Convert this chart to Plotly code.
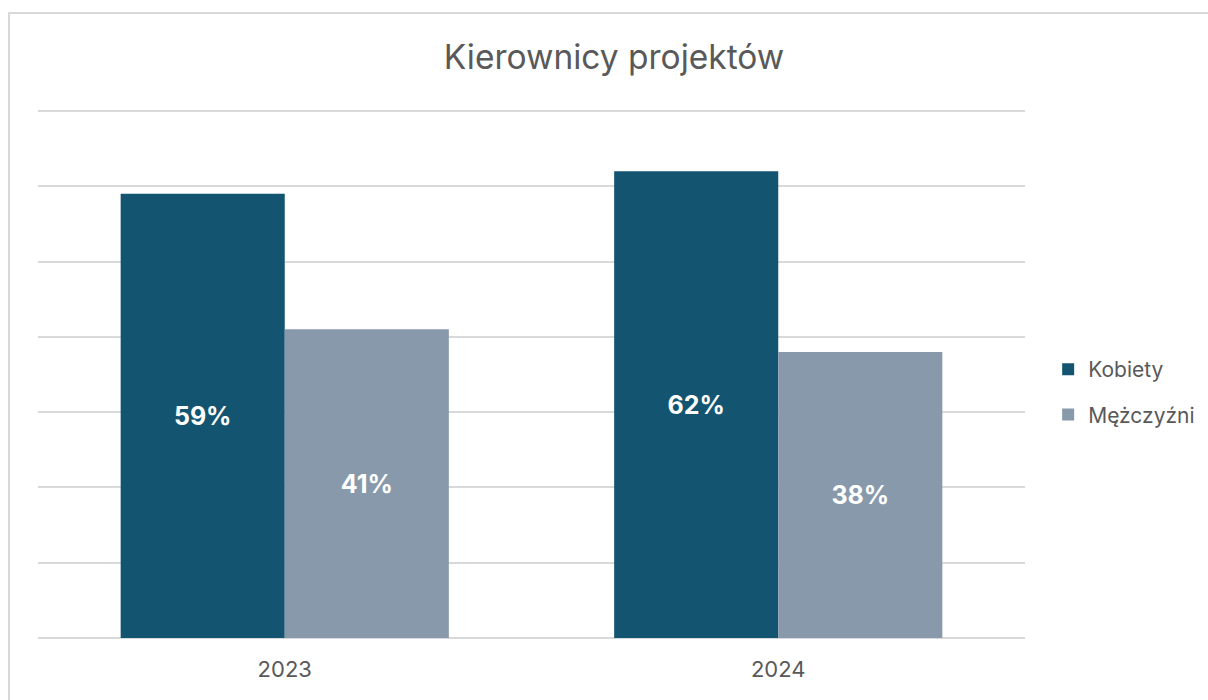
import plotly.graph_objects as go

categories = ["2023", "2024"]
kobiety = [59, 62]
mezczyzni = [41, 38]
series_names = ["Kobiety", "Mężczyźni"]
colors = ["#135570", "#8799AA"]

W, H = 1208, 700
YMAX = 70.4
L, R, B = 38, 183, 62
ph = round(527 * YMAX / 70)
T = H - B - ph
pw = W - L - R
FONT = "Inter"

fig = go.Figure()
for name, vals, col in zip(series_names, [kobiety, mezczyzni], colors):
    fig.add_trace(go.Bar(
        x=categories, y=vals, name=name, marker=dict(color=col, line=dict(width=0)),
        text=[f"{v}%" for v in vals], textposition="inside", insidetextanchor="middle",
        textfont=dict(color="white", size=25, family=FONT, weight="bold"),
        textangle=0, legendgroup=name,
    ))

fig.update_layout(
    width=W, height=H,
    margin=dict(l=L, r=R, t=T, b=B, autoexpand=False),
    paper_bgcolor="white", plot_bgcolor="white",
    barmode="group", bargap=0.335, bargroupgap=0,
    font=dict(family=FONT, color="#595959"),
    title=dict(text="Kierownicy projektów", x=614 / W, xref="container", xanchor="center",
               y=1 - 57 / H, yref="container", yanchor="middle",
               font=dict(size=33.5, color="#595959", family=FONT)),
    legend=dict(x=(1060 - L) / pw - 0.012, xanchor="left", y=(638 - 392) / ph, yanchor="middle",
                font=dict(size=21, color="#595959"), traceorder="grouped", tracegroupgap=15,
                bgcolor="rgba(0,0,0,0)"),
    showlegend=True,
)
fig.update_xaxes(showline=False, ticks="", ticklabelstandoff=16,
                 tickfont=dict(size=22, color="#595959"))
fig.update_yaxes(range=[0, YMAX], dtick=10, showticklabels=False, gridcolor="#d9d9d9",
                 gridwidth=1.5, zeroline=True, zerolinecolor="#d9d9d9", zerolinewidth=1.5)

fig.add_shape(type="rect", xref="paper", yref="paper",
              x0=(9 - L) / pw, x1=1.3, y0=-0.3, y1=(H - B - 13) / ph,
              line=dict(color="#d9d9d9", width=2), fillcolor="rgba(0,0,0,0)", layer="below")

fig.write_html("out.html")
